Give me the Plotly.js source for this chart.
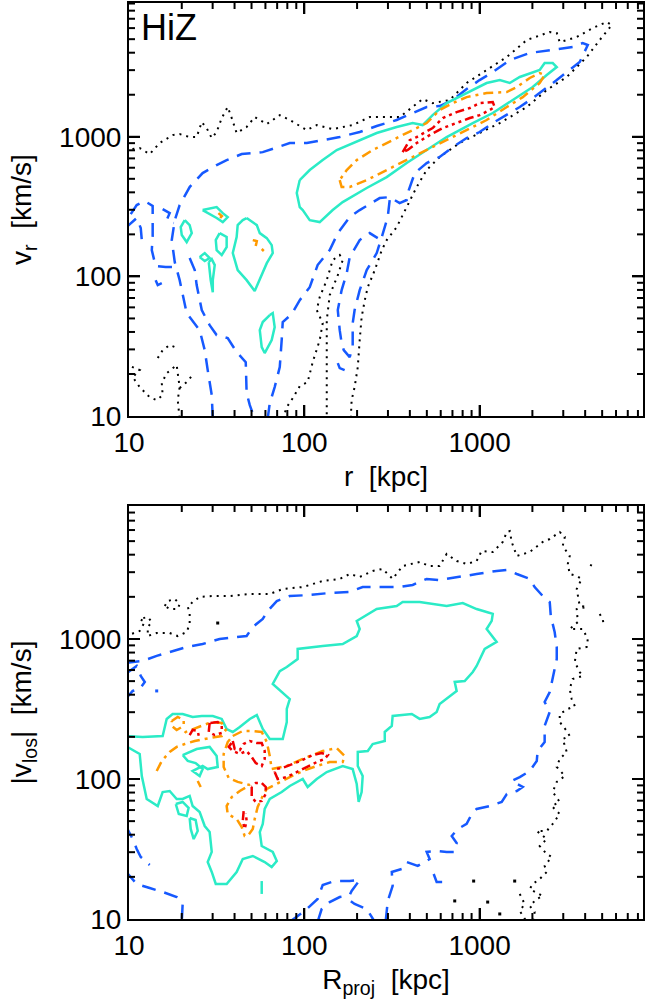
<!DOCTYPE html>
<html>
<head>
<meta charset="utf-8">
<script src="https://cdn.plot.ly/plotly-3.0.1.min.js"></script>
<style>html,body{margin:0;padding:0;background:#fff;}#chart{width:646px;height:1002px;}</style>
</head>
<body>
<div id="chart"></div>
<script>
// ---- Data: contour outlines, each vertex is [log10(r or R_proj / kpc), log10(|v| / km/s)] ----
// Top panel (HiZ): v_r vs r
const topDot1 = [[0.98,2.905],[1.061,2.919],[1.118,2.876],[1.175,2.955],[1.249,3.012],[1.289,3.019],[1.346,2.998],[1.386,2.998],[1.415,3.105],[1.443,3.062],[1.472,2.991],[1.500,3.034],[1.529,3.134],[1.563,3.213],[1.586,3.134],[1.614,3.027],[1.671,3.070],[1.717,3.141],[1.786,3.091],[1.860,3.155],[1.917,3.120],[2.014,3.048],[2.071,3.084],[2.162,3.055],[2.276,3.084],[2.373,3.141],[2.487,3.141],[2.544,3.141],[2.675,3.270],[2.732,3.241],[2.829,3.263],[2.926,3.385],[3.040,3.478],[3.155,3.571],[3.269,3.693],[3.400,3.750],[3.440,3.743],[3.457,3.678],[3.554,3.714],[3.645,3.779],[3.725,3.822],[3.754,3.800],[3.685,3.693],[3.611,3.571],[3.497,3.428],[3.383,3.335],[3.269,3.213],[3.115,3.098],[3.000,3.027],[2.886,2.955],[2.772,2.855],[2.698,2.762],[2.641,2.640],[2.584,2.496],[2.527,2.353],[2.470,2.260],[2.442,2.188],[2.402,2.045],[2.362,1.923],[2.345,1.830],[2.327,1.708],[2.316,1.544],[2.305,1.350],[2.287,1.207],[2.270,1.114],[2.265,0.98]];
const topDot2 = [[1.877,0.98],[1.900,1.064],[1.934,1.128],[1.974,1.214],[2.019,1.243],[2.048,1.386],[2.088,1.544],[2.105,1.665],[2.071,1.759],[2.088,1.852],[2.128,1.973],[2.162,2.117],[2.202,2.153],[2.219,2.117],[2.191,2.009],[2.145,1.866],[2.128,1.687],[2.128,1.472],[2.128,1.221],[2.128,0.98]];
const topDot3 = [[0.98,1.372],[1.061,1.329],[1.021,1.279],[1.061,1.207],[1.118,1.135],[1.158,1.114],[1.192,1.150],[1.187,1.236],[1.215,1.307],[1.272,1.365],[1.278,1.307],[1.289,1.207],[1.278,1.114],[1.289,0.98]];
const topDot4 = [[1.289,1.200],[1.329,1.243],[1.363,1.293]];
const topDot5 = [[1.164,1.415],[1.192,1.472],[1.232,1.508],[1.278,1.486]];

const topDash1 = [[1.791,0.98],[1.803,1.092],[1.831,1.207],[1.860,1.350],[1.871,1.544],[1.877,1.673],[1.928,1.730],[1.974,1.830],[2.031,1.923],[2.076,2.081],[2.145,2.188],[2.191,2.310],[2.259,2.425],[2.316,2.475],[2.373,2.518],[2.430,2.561],[2.487,2.568],[2.544,2.525],[2.584,2.547],[2.596,2.618],[2.630,2.740],[2.698,2.812],[2.772,2.855],[2.847,2.926],[2.926,2.991],[3.000,3.034],[3.075,3.098],[3.155,3.155],[3.229,3.213],[3.303,3.277],[3.383,3.349],[3.440,3.406],[3.497,3.463],[3.571,3.535],[3.617,3.657],[3.588,3.671],[3.531,3.643],[3.417,3.621],[3.286,3.600],[3.172,3.549],[3.075,3.463],[3.000,3.406],[2.926,3.342],[2.847,3.263],[2.772,3.220],[2.698,3.213],[2.618,3.170],[2.527,3.120],[2.413,3.077],[2.316,3.034],[2.202,2.998],[2.105,2.976],[2.014,2.955],[1.917,2.955],[1.843,2.926],[1.763,2.890],[1.706,2.883],[1.643,2.876],[1.557,2.833],[1.500,2.797],[1.420,2.740],[1.346,2.640],[1.289,2.511],[1.261,2.403],[1.244,2.260],[1.261,2.102],[1.289,1.973],[1.329,1.737],[1.403,1.615],[1.432,1.472],[1.449,1.329],[1.472,1.150],[1.478,0.98]];
const topDash2 = [[2.487,2.547],[2.476,2.425],[2.442,2.282],[2.413,2.167],[2.356,2.045],[2.316,1.902],[2.287,1.759],[2.276,1.665],[2.276,1.494],[2.259,1.422],[2.225,1.472],[2.213,1.522],[2.202,1.615],[2.191,1.759],[2.213,1.902],[2.242,2.024],[2.259,2.138],[2.316,2.260],[2.373,2.310],[2.419,2.274]];
const topDash3 = [[2.191,1.379],[2.202,1.343],[2.230,1.329]];
const topDash4 = [[1.346,2.131],[1.375,2.045],[1.386,1.938],[1.415,1.759],[1.460,1.651],[1.500,1.580],[1.563,1.558],[1.614,1.458],[1.666,1.386],[1.671,1.164],[1.689,1.078],[1.717,0.98]];
const topDash5 = [[1.010,2.446],[1.044,2.511],[1.090,2.539],[1.135,2.504],[1.135,2.403],[1.135,2.289],[1.130,2.188],[1.152,2.074],[1.209,2.067],[1.261,2.067]];
const topDash6 = [[0.98,2.346],[1.044,2.418],[1.067,2.346],[1.073,2.260]];
const topDash7 = [[1.192,2.482],[1.232,2.453],[1.215,2.403],[1.255,2.382]];
const topDash8 = [[1.152,1.973],[1.164,1.938],[1.187,1.952]];

const topSolid1 = [[1.974,2.690],[1.957,2.597],[1.974,2.496],[1.991,2.475],[2.031,2.403],[2.088,2.389],[2.162,2.475],[2.219,2.532],[2.356,2.633],[2.470,2.711],[2.584,2.812],[2.698,2.905],[2.812,2.998],[2.961,3.098],[3.075,3.170],[3.189,3.263],[3.303,3.356],[3.383,3.442],[3.440,3.499],[3.417,3.528],[3.371,3.528],[3.343,3.478],[3.229,3.428],[3.172,3.385],[3.115,3.406],[3.040,3.385],[2.926,3.313],[2.812,3.241],[2.732,3.155],[2.675,3.084],[2.618,3.098],[2.527,3.070],[2.413,3.027],[2.316,2.976],[2.185,2.905],[2.105,2.833],[2.031,2.762],[1.985,2.704],[1.974,2.690]];
const topSolid2 = [[1.671,2.418],[1.729,2.367],[1.746,2.310],[1.786,2.274],[1.814,2.224],[1.820,2.167],[1.786,2.095],[1.763,2.024],[1.717,1.895],[1.671,1.973],[1.620,2.045],[1.592,2.167],[1.614,2.282],[1.620,2.367],[1.649,2.403],[1.671,2.418]];
const topSolid3 = [[1.420,2.475],[1.500,2.496],[1.535,2.453],[1.563,2.425],[1.535,2.389],[1.500,2.418],[1.420,2.475]];
const topSolid4 = [[1.318,2.403],[1.346,2.367],[1.358,2.310],[1.329,2.246],[1.301,2.296],[1.295,2.353],[1.318,2.403]];
const topSolid5 = [[1.517,2.310],[1.557,2.282],[1.557,2.210],[1.529,2.153],[1.500,2.188],[1.495,2.260],[1.517,2.310]];
const topSolid6 = [[1.403,2.138],[1.432,2.167],[1.460,2.131],[1.432,2.110],[1.403,2.138]];
const topSolid7 = [[1.455,2.102],[1.472,2.124],[1.489,2.081],[1.478,1.973],[1.478,1.887],[1.466,1.973],[1.455,2.102]];
const topSolid8 = [[1.803,1.723],[1.820,1.737],[1.831,1.637],[1.814,1.544],[1.774,1.451],[1.757,1.494],[1.746,1.615],[1.763,1.673],[1.803,1.723]];

const topDashDot1 = [[2.202,2.690],[2.213,2.640],[2.259,2.640],[2.356,2.690],[2.470,2.762],[2.584,2.833],[2.698,2.905],[2.812,2.976],[2.926,3.048],[3.040,3.120],[3.155,3.213],[3.246,3.284],[3.343,3.385],[3.371,3.442],[3.343,3.456],[3.286,3.421],[3.212,3.356],[3.155,3.320],[3.040,3.313],[2.926,3.284],[2.847,3.241],[2.772,3.191],[2.698,3.098],[2.584,3.027],[2.504,2.976],[2.390,2.905],[2.299,2.833],[2.242,2.762],[2.202,2.690]];
const topDashDot2 = [[1.51,2.453],[1.53,2.432],[1.52,2.418]];
const topDashDot3 = [[1.706,2.260],[1.729,2.253],[1.723,2.217]];
const topDashDot4 = [[1.757,2.196],[1.769,2.182]];

const topRed1 = [[2.561,2.890],[2.601,2.976],[2.641,2.998],[2.732,3.062],[2.790,3.134],[2.869,3.177],[2.944,3.206],[3.000,3.241],[3.075,3.249],[3.086,3.213],[3.057,3.191],[3.000,3.155],[2.944,3.134],[2.869,3.098],[2.790,3.062],[2.715,3.012],[2.641,2.955],[2.590,2.905],[2.561,2.890]];

// Bottom panel: |v_los| vs R_proj
const botDot1 = [[0.98,3.021],[1.061,3.057],[1.090,3.121],[1.061,3.143],[1.107,3.157],[1.130,3.121],[1.107,3.086],[1.107,3.021],[1.158,3.043],[1.232,3.043],[1.278,3.021],[1.329,3.050],[1.346,3.107],[1.346,3.193],[1.335,3.229],[1.363,3.264],[1.403,3.300],[1.478,3.307],[1.574,3.307],[1.689,3.321],[1.803,3.321],[1.877,3.357],[1.991,3.371],[2.105,3.414],[2.202,3.429],[2.259,3.464],[2.316,3.443],[2.390,3.486],[2.447,3.500],[2.504,3.429],[2.561,3.521],[2.658,3.550],[2.715,3.521],[2.772,3.521],[2.812,3.607],[2.869,3.557],[2.926,3.536],[2.983,3.557],[3.012,3.629],[3.075,3.621],[3.132,3.693],[3.155,3.764],[3.172,3.771],[3.183,3.693],[3.212,3.593],[3.286,3.621],[3.360,3.693],[3.400,3.714],[3.457,3.764],[3.486,3.729],[3.474,3.664],[3.514,3.593],[3.503,3.536],[3.514,3.464],[3.554,3.450],[3.582,3.429],[3.554,3.357],[3.571,3.236],[3.611,3.229],[3.554,3.214],[3.560,3.121],[3.514,3.071],[3.588,3.071],[3.617,3.000],[3.611,2.943],[3.554,2.929],[3.543,2.836],[3.571,2.764],[3.588,2.736],[3.531,2.714],[3.514,2.643],[3.525,2.571],[3.543,2.521],[3.503,2.500],[3.457,2.464],[3.457,2.407],[3.497,2.343],[3.514,2.307],[3.474,2.286],[3.497,2.193],[3.457,2.143],[3.440,2.086],[3.486,2.021],[3.440,1.979],[3.417,1.907],[3.457,1.836],[3.411,1.807],[3.457,1.750],[3.417,1.679],[3.383,1.629],[3.326,1.629],[3.383,1.571],[3.343,1.521],[3.383,1.464],[3.411,1.443],[3.371,1.379],[3.383,1.336],[3.343,1.286],[3.303,1.250],[3.286,1.214],[3.360,1.164],[3.326,1.143],[3.286,1.093],[3.314,1.050],[3.303,0.98]];
const botDot2 = [[1.204,3.236],[1.221,3.271],[1.261,3.286],[1.289,3.250],[1.278,3.214],[1.232,3.214],[1.204,3.236]];
const botDot3 = [[3.63,3.529],[3.66,3.514]];
const botDot4 = [[3.685,3.179],[3.702,3.143],[3.708,3.100]];
const botDot5 = [[3.229,1.179],[3.257,1.107],[3.229,1.057],[3.269,0.98]];
const botDotSpecks = [[2.858,1.129],[2.966,1.271],[3.046,1.121],[3.115,1.036],[3.200,1.271],[1.506,3.114]];

const botDash1 = [[0.98,2.829],[1.078,2.843],[1.158,2.879],[1.232,2.907],[1.329,2.943],[1.420,2.964],[1.517,3.000],[1.614,3.014],[1.671,3.021],[1.706,3.086],[1.763,3.143],[1.791,3.200],[1.843,3.271],[1.917,3.307],[2.031,3.314],[2.145,3.329],[2.259,3.336],[2.333,3.371],[2.430,3.371],[2.544,3.371],[2.618,3.386],[2.698,3.429],[2.772,3.421],[2.869,3.443],[2.983,3.464],[3.097,3.486],[3.155,3.493],[3.212,3.464],[3.286,3.429],[3.314,3.371],[3.360,3.307],[3.400,3.264],[3.406,3.164],[3.428,3.050],[3.440,2.943],[3.440,2.857],[3.417,2.714],[3.400,2.621],[3.371,2.550],[3.400,2.479],[3.371,2.379],[3.371,2.264],[3.331,2.200],[3.326,2.129],[3.286,2.057],[3.229,2.014],[3.183,1.986],[3.246,1.943],[3.212,1.914],[3.155,1.893],[3.126,1.836],[3.057,1.807],[2.983,1.786],[2.955,1.750],[2.926,1.679],[2.875,1.643],[2.841,1.593],[2.869,1.543],[2.858,1.479],[2.812,1.479],[2.755,1.486],[2.698,1.479],[2.715,1.429],[2.647,1.379],[2.584,1.407],[2.556,1.357],[2.499,1.336],[2.504,1.236],[2.476,1.129],[2.464,0.98]];
const botDash2 = [[0.98,2.750],[1.044,2.807],[1.067,2.736],[1.090,2.693],[1.061,2.643],[1.021,2.629],[0.98,2.571]];
const botDash3 = [[0.98,1.671],[1.021,1.571],[1.044,1.500],[1.067,1.443],[1.118,1.386]];
const botDash4 = [[0.98,1.343],[1.044,1.250],[1.118,1.221],[1.192,1.193],[1.272,1.157],[1.306,1.107],[1.301,0.98]];
const botDash5 = [[1.917,0.98],[2.002,1.057],[2.076,1.143],[2.105,1.243],[2.173,1.271],[2.259,1.271],[2.316,1.279],[2.270,1.200],[2.248,1.143],[2.287,1.107],[2.356,1.071],[2.402,0.98]];
const botDash6 = [[2.076,0.98],[2.099,1.071],[2.145,1.121],[2.202,1.157],[2.242,1.164]];
const botDash7 = [[2.738,1.321],[2.755,1.264],[2.790,1.264],[2.812,1.300]];
const botDashSpecks = [[1.158,2.629]];

const botSolid1 = [[0.98,2.307],[1.078,2.300],[1.192,2.307],[1.215,2.429],[1.249,2.464],[1.306,2.464],[1.363,2.443],[1.415,2.450],[1.478,2.450],[1.529,2.429],[1.557,2.357],[1.592,2.336],[1.632,2.371],[1.689,2.429],[1.729,2.457],[1.763,2.357],[1.803,2.286],[1.877,2.286],[1.900,2.407],[1.900,2.500],[1.917,2.571],[1.871,2.621],[1.820,2.679],[1.860,2.771],[1.900,2.800],[1.962,2.857],[1.962,2.929],[2.105,2.950],[2.219,2.964],[2.299,3.021],[2.316,3.071],[2.299,3.129],[2.413,3.214],[2.527,3.236],[2.561,3.264],[2.658,3.264],[2.755,3.243],[2.812,3.236],[2.904,3.257],[2.983,3.214],[3.040,3.193],[3.075,3.179],[3.069,3.129],[3.040,3.071],[3.097,2.979],[3.029,2.929],[2.983,2.807],[2.961,2.764],[2.915,2.700],[2.858,2.693],[2.869,2.629],[2.812,2.571],[2.772,2.536],[2.755,2.479],[2.715,2.443],[2.658,2.429],[2.613,2.464],[2.504,2.450],[2.499,2.379],[2.459,2.336],[2.459,2.271],[2.390,2.250],[2.362,2.200],[2.305,2.193],[2.305,2.093],[2.333,2.021],[2.327,1.907],[2.310,1.836],[2.299,1.964],[2.276,2.071],[2.219,2.093],[2.128,2.050],[2.071,2.000],[2.019,1.943],[1.991,2.000],[1.917,1.950],[1.871,1.907],[1.803,1.857],[1.774,1.786],[1.763,1.679],[1.746,1.621],[1.757,1.521],[1.820,1.479],[1.843,1.414],[1.814,1.371],[1.774,1.407],[1.706,1.450],[1.649,1.429],[1.614,1.336],[1.557,1.250],[1.495,1.250],[1.472,1.336],[1.449,1.407],[1.472,1.479],[1.460,1.621],[1.432,1.664],[1.403,1.764],[1.363,1.807],[1.346,1.879],[1.306,1.857],[1.272,1.857],[1.232,1.914],[1.192,1.907],[1.164,1.807],[1.101,1.857],[1.073,2.021],[1.061,2.179],[0.98,2.236]];
const botSolid2 = [[1.306,2.171],[1.386,2.214],[1.460,2.229],[1.500,2.164],[1.506,2.086],[1.449,2.071],[1.420,2.093],[1.363,2.057],[1.403,2.021],[1.420,2.071],[1.380,2.114],[1.335,2.129],[1.306,2.171]];
const botSolid3 = [[1.267,1.821],[1.306,1.836],[1.340,1.793],[1.329,1.736],[1.284,1.750],[1.267,1.821]];
const botSolid4 = [[1.346,1.721],[1.380,1.707],[1.392,1.629],[1.369,1.571],[1.352,1.643],[1.346,1.721]];
const botSolid5 = [[1.757,1.271],[1.757,1.179]];

const botDashDot1 = [[1.592,2.307],[1.649,2.343],[1.706,2.343],[1.757,2.336],[1.786,2.264],[1.803,2.164],[1.814,2.071],[1.900,2.093],[1.991,2.143],[2.105,2.200],[2.185,2.221],[2.230,2.164],[2.219,2.121],[2.145,2.121],[2.071,2.093],[1.991,2.057],[1.917,2.014],[1.843,1.964],[1.786,1.929],[1.763,1.879],[1.734,1.800],[1.717,1.714],[1.706,1.643],[1.677,1.593],[1.660,1.593],[1.643,1.657],[1.614,1.714],[1.563,1.750],[1.557,1.807],[1.586,1.871],[1.632,1.914],[1.689,1.957],[1.620,1.979],[1.569,2.007],[1.540,2.086],[1.540,2.179],[1.563,2.264],[1.592,2.307]];
const botDashDot2 = [[1.158,2.057],[1.187,2.129],[1.232,2.193],[1.272,2.229],[1.318,2.250],[1.375,2.271],[1.432,2.286],[1.489,2.300],[1.529,2.307],[1.552,2.350],[1.529,2.400],[1.472,2.407],[1.415,2.379],[1.363,2.357],[1.323,2.336],[1.301,2.300]];
const botDashDot3 = [[1.244,2.414],[1.278,2.443],[1.312,2.421],[1.312,2.379],[1.272,2.350],[1.244,2.379],[1.244,2.414]];
const botDashDot4 = [[1.392,1.986],[1.409,1.943]];

const botRed1 = [[1.460,2.400],[1.455,2.336],[1.489,2.314],[1.529,2.329],[1.529,2.379],[1.506,2.407],[1.460,2.400]];
const botRed2 = [[1.346,2.314],[1.363,2.350],[1.392,2.343],[1.398,2.307]];
const botRed3 = [[1.592,2.271],[1.603,2.214],[1.632,2.207],[1.654,2.250],[1.689,2.271],[1.729,2.257],[1.757,2.257],[1.774,2.200],[1.774,2.143],[1.757,2.093],[1.723,2.114],[1.700,2.157],[1.671,2.200],[1.632,2.179],[1.592,2.200],[1.569,2.229],[1.592,2.271]];
const botRed4 = [[1.831,2.050],[1.848,2.000],[1.900,2.014],[1.957,2.050],[2.014,2.086],[2.071,2.121],[2.116,2.143],[2.134,2.171],[2.099,2.186],[2.048,2.171],[1.991,2.136],[1.934,2.107],[1.877,2.079],[1.837,2.071],[1.831,2.050]];
const botRed5 = [[1.700,1.943],[1.700,1.871],[1.723,1.836],[1.757,1.843],[1.780,1.893],[1.780,1.943],[1.757,1.971],[1.723,1.971],[1.700,1.943]];
const botRed6 = [[1.654,1.771],[1.649,1.700],[1.660,1.643],[1.671,1.700],[1.666,1.757]];

const majorTicks = [10, 100, 1000];
const minorDigits = [2, 3, 4, 5, 6, 7, 8, 9];
const panelLabel = 'HiZ';
const xTitleTop = 'r\u00a0\u00a0[kpc]';
const yTitleTop = 'v<sub>r</sub>\u00a0\u00a0[km/s]';
const xTitleBot = 'R<sub>proj</sub>\u00a0\u00a0[kpc]';
const yTitleBot = '|v<sub>los</sub>|\u00a0\u00a0[km/s]';

// ---- Styles ----
const FONT = 'Liberation Sans, Arial, Helvetica, sans-serif';
const STY = {
  dot:     {color:'#000000', width:2,   dash:'2px,5px'},
  dash:    {color:'#1659FF', width:2.5, dash:'14px,9px'},
  solid:   {color:'#2BEBC6', width:2.5, dash:'solid'},
  dashdot: {color:'#FF9A00', width:2.5, dash:'10px,5px,3px,5px'},
  red:     {color:'#F00000', width:2.5, dash:'9px,4px,3px,4px,3px,4px,3px,4px'}
};
// axis ranges (log10 units) and pixel size of each panel's plotting area
const PANEL = {
  top: {xa:'x',  ya:'y',  xr:[1,3.932], yr:[1,3.958], wpx:514, hpx:413},
  bot: {xa:'x2', ya:'y2', xr:[1,3.932], yr:[1,3.95],  wpx:514, hpx:413}
};

const traces = [];
function addLine(pts, sty, panel) {
  traces.push({
    type:'scatter', mode:'lines',
    x: pts.map(p => Math.pow(10, p[0])),
    y: pts.map(p => Math.pow(10, p[1])),
    xaxis: PANEL[panel].xa, yaxis: PANEL[panel].ya,
    line: Object.assign({}, sty),
    hoverinfo:'skip', showlegend:false
  });
}
function addSpecks(pts, color, panel) {
  traces.push({
    type:'scatter', mode:'markers',
    x: pts.map(p => Math.pow(10, p[0])),
    y: pts.map(p => Math.pow(10, p[1])),
    xaxis: PANEL[panel].xa, yaxis: PANEL[panel].ya,
    marker:{color:color, size:3, symbol:'square'},
    hoverinfo:'skip', showlegend:false
  });
}

[topDot1, topDot2, topDot3, topDot4, topDot5].forEach(p => addLine(p, STY.dot, 'top'));
[topDash1, topDash2, topDash3, topDash4, topDash5, topDash6, topDash7, topDash8].forEach(p => addLine(p, STY.dash, 'top'));
[topSolid1, topSolid2, topSolid3, topSolid4, topSolid5, topSolid6, topSolid7, topSolid8].forEach(p => addLine(p, STY.solid, 'top'));
[topDashDot1, topDashDot2, topDashDot3, topDashDot4].forEach(p => addLine(p, STY.dashdot, 'top'));
[topRed1].forEach(p => addLine(p, STY.red, 'top'));

[botDot1, botDot2, botDot3, botDot4, botDot5].forEach(p => addLine(p, STY.dot, 'bot'));
addSpecks(botDotSpecks, '#000000', 'bot');
[botDash1, botDash2, botDash3, botDash4, botDash5, botDash6, botDash7].forEach(p => addLine(p, STY.dash, 'bot'));
addSpecks(botDashSpecks, STY.dash.color, 'bot');
[botSolid1, botSolid2, botSolid3, botSolid4, botSolid5].forEach(p => addLine(p, STY.solid, 'bot'));
[botDashDot1, botDashDot2, botDashDot3, botDashDot4].forEach(p => addLine(p, STY.dashdot, 'bot'));
[botRed1, botRed2, botRed3, botRed4, botRed5, botRed6].forEach(p => addLine(p, STY.red, 'bot'));

// Inside tick marks on all four sides (IDL style), drawn on each panel's own log axes
function tickList(range) {
  const out = [];
  [1, 10, 100, 1000].forEach(dec => {
    if (dec >= 10) out.push({v: dec, major: true});
    minorDigits.forEach(d => out.push({v: d * dec, major: false}));
  });
  return out.filter(t => {
    const l = Math.log10(t.v);
    return l > range[0] + 1e-6 && l < range[1] - 1e-6;
  });
}
function addTicks(panel) {
  const P = PANEL[panel];
  const pxPerDecX = P.wpx / (P.xr[1] - P.xr[0]);
  const pxPerDecY = P.hpx / (P.yr[1] - P.yr[0]);
  const segs = [];
  tickList(P.xr).forEach(t => {
    const dl = (t.major ? 11 : 6) / pxPerDecY;
    segs.push([[t.v, Math.pow(10, P.yr[0])], [t.v, Math.pow(10, P.yr[0] + dl)]]);
    segs.push([[t.v, Math.pow(10, P.yr[1])], [t.v, Math.pow(10, P.yr[1] - dl)]]);
  });
  tickList(P.yr).forEach(t => {
    const dl = (t.major ? 11 : 6) / pxPerDecX;
    segs.push([[Math.pow(10, P.xr[0]), t.v], [Math.pow(10, P.xr[0] + dl), t.v]]);
    segs.push([[Math.pow(10, P.xr[1]), t.v], [Math.pow(10, P.xr[1] - dl), t.v]]);
  });
  segs.forEach(s => {
    traces.push({type:'scatter', mode:'lines', x:[s[0][0], s[1][0]], y:[s[0][1], s[1][1]],
      xaxis:P.xa, yaxis:P.ya, cliponaxis:false,
      line:{color:'#000000', width:2}, hoverinfo:'skip', showlegend:false});
  });
}
addTicks('top');
addTicks('bot');

function axis(extra) {
  return Object.assign({
    type:'log', tickmode:'array', tickvals: majorTicks, ticktext: majorTicks.map(String),
    ticks:'inside', ticklen:11, tickwidth:2, tickcolor:'#000000',
    showline:true, linecolor:'#000', linewidth:2, mirror:'ticks',
    showgrid:false, zeroline:false,
    tickfont:{family:FONT, size:28, color:'#000'}
  }, extra);
}
const titleFont = {family:FONT, size:28, color:'#000'};

const layout = {
  width:646, height:1002,
  margin:{l:129, r:3, t:3, b:83, pad:0},
  paper_bgcolor:'#fff', plot_bgcolor:'#fff',
  showlegend:false,
  xaxis: axis({domain:[0,1], anchor:'y', range:PANEL.top.xr, ticklabelstandoff:0,
    title:{text:xTitleTop, font:titleFont, standoff:10}}),
  yaxis: axis({domain:[0.5491,1], anchor:'x', range:PANEL.top.yr, ticklabelstandoff:0,
    title:{text:yTitleTop, font:titleFont, standoff:19}}),
  xaxis2: axis({domain:[0,1], anchor:'y2', range:PANEL.bot.xr, ticklabelstandoff:0,
    title:{text:xTitleBot, font:titleFont, standoff:10}}),
  yaxis2: axis({domain:[0,0.4509], anchor:'x2', range:PANEL.bot.yr, ticklabelstandoff:0,
    title:{text:yTitleBot, font:titleFont, standoff:19}}),
  annotations:[{
    text: panelLabel, xref:'x domain', yref:'y domain', x:0.019, y:0.995,
    xanchor:'left', yanchor:'top', showarrow:false,
    font:{family:FONT, size:36, color:'#000'}
  }]
};

Plotly.newPlot('chart', traces, layout, {staticPlot:true, displayModeBar:false});
</script>
</body>
</html>
